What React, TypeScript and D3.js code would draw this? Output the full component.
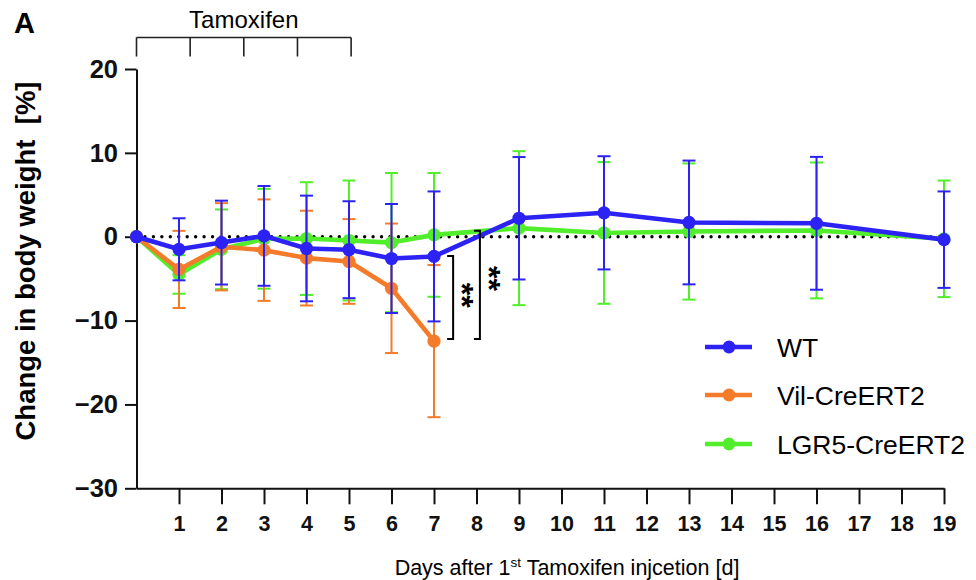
import { useEffect, useRef } from 'react';
import * as d3 from 'd3';

// days on the x axis
const allDays = [0, 1, 2, 3, 4, 5, 6, 7, 9, 11, 13, 16, 19];
const vilDays = [0, 1, 2, 3, 4, 5, 6, 7];
const xTicks = d3.range(1, 20);
const yTicks = [-30, -20, -10, 0, 10, 20];

// mean change in body weight [%] and SD
const wtMean = [0, -1.5, -0.7, 0.1, -1.4, -1.55, -2.6, -2.35, 2.2, 2.85, 1.7, 1.6, -0.35];
const wtSd = [0, 3.7, 5.0, 5.95, 6.3, 5.78, 6.5, 7.75, 7.3, 6.75, 7.38, 7.92, 5.75];
const vilMean = [0, -3.9, -1.2, -1.6, -2.55, -2.95, -6.15, -12.45];
const vilSd = [0, 4.6, 5.2, 6.05, 5.65, 5.05, 7.72, 9.07];
const lgrMean = [0, -4.5, -1.5, -0.25, -0.22, -0.45, -0.7, 0.22, 1.02, 0.45, 0.62, 0.75, -0.25];
const lgrSd = [0, 2.3, 4.75, 5.95, 6.72, 7.15, 8.3, 7.38, 9.18, 8.45, 8.12, 8.1, 6.95];

const seriesNames = ['WT', 'Vil-CreERT2', 'LGR5-CreERT2'];
const seriesColors = ['#2c22f4', '#f47b29', '#52ee2c'];

// significance brackets next to day 7
const sigBrackets = [
  { dx: 0.45, top: -2.3, bottom: -12.2, label: '**', starDx: 0.83, starY: -7.0 },
  { dx: 1.08, top: 0.7, bottom: -12.2, label: '**', starDx: 1.47, starY: -5.0 },
];

const FONT = "'Liberation Sans', Arial, Helvetica, sans-serif";

const App = () => {
  const svgRef = useRef<SVGSVGElement | null>(null);
  const width = 976;
  const height = 580;

  useEffect(() => {
    const svg = d3.select(svgRef.current);
    svg.selectAll('*').remove();

    const x = d3.scaleLinear().domain([0, 19]).range([136.5, 944]);
    const y = d3.scaleLinear().domain([-30, 20]).range([488.3, 69]);

    svg.attr('width', width).attr('height', height).style('font-family', FONT);

    // panel letter
    svg.append('text')
      .attr('x', 14).attr('y', 33)
      .attr('font-size', 29).attr('font-weight', 'bold')
      .text('A');

    // tamoxifen bracket
    const tamoX = d3.range(5).map(i => x(0) + i * (x(5.05) - x(0)) / 4);
    const tam = svg.append('g').attr('stroke', '#222').attr('stroke-width', 1.6).attr('fill', 'none');
    tam.append('line')
      .attr('x1', tamoX[0]).attr('x2', tamoX[4])
      .attr('y1', 37.5).attr('y2', 37.5);
    tam.selectAll('.tick')
      .data(tamoX)
      .enter()
      .append('line')
      .attr('x1', d => d).attr('x2', d => d)
      .attr('y1', 37.5).attr('y2', 56.5);
    svg.append('text')
      .attr('x', (tamoX[0] + tamoX[4]) / 2).attr('y', 27.5)
      .attr('text-anchor', 'middle')
      .attr('font-size', 24)
      .text('Tamoxifen');

    // axes
    const yAxis = svg.append('g')
      .attr('transform', `translate(${x(0)},0)`)
      .call(d3.axisLeft(y).tickValues(yTicks).tickSize(11.5).tickSizeOuter(0).tickPadding(7));
    yAxis.selectAll('path, line').attr('stroke', '#111').attr('stroke-width', 2);
    yAxis.selectAll('text')
      .attr('font-family', FONT).attr('font-size', 25.5).attr('font-weight', 'bold').attr('fill', '#111');

    const xAxis = svg.append('g')
      .attr('transform', `translate(0,${y(-30)})`)
      .call(d3.axisBottom(x).tickValues(xTicks).tickSize(16).tickSizeOuter(0).tickPadding(11).tickFormat(d3.format('d')));
    xAxis.selectAll('path, line').attr('stroke', '#111').attr('stroke-width', 2);
    xAxis.selectAll('text')
      .attr('font-family', FONT).attr('font-size', 21.5).attr('font-weight', 'bold').attr('fill', '#111');

    // zero reference line (dotted)
    svg.append('line')
      .attr('x1', x(0)).attr('x2', x(19))
      .attr('y1', y(0)).attr('y2', y(0))
      .attr('stroke', '#000')
      .attr('stroke-width', 3.4)
      .attr('stroke-linecap', 'round')
      .attr('stroke-dasharray', '0 8.45');

    // series, drawn back to front
    const series = [
      { days: allDays, mean: wtMean, sd: wtSd, color: seriesColors[0] },
      { days: vilDays, mean: vilMean, sd: vilSd, color: seriesColors[1] },
      { days: allDays, mean: lgrMean, sd: lgrSd, color: seriesColors[2] },
    ];
    const order = [2, 1, 0];
    const line = d3.line<[number, number]>().x(d => x(d[0])).y(d => y(d[1]));

    order.forEach(si => {
      const s = series[si];
      const pts = s.days.map((d, i) => ({ day: d, m: s.mean[i], sd: s.sd[i] }));
      const g = svg.append('g');

      const eb = g.selectAll('.eb')
        .data(pts.filter(p => p.sd > 0))
        .enter()
        .append('g')
        .attr('stroke', s.color)
        .attr('stroke-width', 2);
      eb.append('line')
        .attr('x1', p => x(p.day)).attr('x2', p => x(p.day))
        .attr('y1', p => y(p.m + p.sd)).attr('y2', p => y(p.m - p.sd));
      eb.append('line')
        .attr('x1', p => x(p.day) - 6.5).attr('x2', p => x(p.day) + 6.5)
        .attr('y1', p => y(p.m + p.sd)).attr('y2', p => y(p.m + p.sd));
      eb.append('line')
        .attr('x1', p => x(p.day) - 6.5).attr('x2', p => x(p.day) + 6.5)
        .attr('y1', p => y(p.m - p.sd)).attr('y2', p => y(p.m - p.sd));

      g.append('path')
        .datum(pts.map(p => [p.day, p.m] as [number, number]))
        .attr('d', line)
        .attr('fill', 'none')
        .attr('stroke', s.color)
        .attr('stroke-width', 4.6)
        .attr('stroke-linejoin', 'round');

      g.selectAll('.dot')
        .data(pts)
        .enter()
        .append('circle')
        .attr('cx', p => x(p.day))
        .attr('cy', p => y(p.m))
        .attr('r', 6.6)
        .attr('fill', s.color);
    });

    // significance brackets
    sigBrackets.forEach(b => {
      const bx = x(7 + b.dx);
      svg.append('path')
        .attr('d', `M${bx - 6},${y(b.top)}H${bx}V${y(b.bottom)}H${bx - 6}`)
        .attr('fill', 'none')
        .attr('stroke', '#000')
        .attr('stroke-width', 2);
      const sx = x(7 + b.starDx);
      const sy = y(b.starY);
      const star = svg.append('text')
        .attr('font-size', 32)
        .attr('font-weight', 'bold')
        .text(b.label);
      // centre the glyphs' box on (sx, sy) after the quarter turn
      const bb = (star.node() as SVGTextElement).getBBox();
      const cx = bb.x + bb.width / 2;
      const cy = bb.y + bb.height * 0.3;
      star.attr('transform', `translate(${sx},${sy}) rotate(90) translate(${-cx},${-cy})`);
    });

    // axis titles
    svg.append('text')
      .attr('transform', `translate(35,261) rotate(-90)`)
      .attr('text-anchor', 'middle')
      .attr('font-size', 27.5)
      .attr('font-weight', 'bold')
      .style('white-space', 'pre')
      .text('Change in body weight  [%]');

    const xt = svg.append('text')
      .attr('x', 567).attr('y', 575)
      .attr('text-anchor', 'middle')
      .attr('font-size', 21.5);
    xt.append('tspan').text('Days after 1');
    xt.append('tspan').attr('dy', -8).attr('font-size', 13.5).text('st');
    xt.append('tspan').attr('dy', 8).text(' Tamoxifen injcetion [d]');

    // legend
    const legendY = [347, 395, 444];
    seriesNames.forEach((name, i) => {
      const lg = svg.append('g').attr('transform', `translate(705,${legendY[i]})`);
      lg.append('line')
        .attr('x1', 0).attr('x2', 47)
        .attr('stroke', seriesColors[i]).attr('stroke-width', 4.6);
      lg.append('circle').attr('cx', 24).attr('r', 6.4).attr('fill', seriesColors[i]);
      lg.append('text')
        .attr('x', 72).attr('dy', '0.36em')
        .attr('font-size', 26.5)
        .text(name);
    });
  }, []);

  return (
    <svg ref={svgRef} style={{ position: 'absolute', left: 0, top: 0 }}></svg>
  );
};

export default App;
